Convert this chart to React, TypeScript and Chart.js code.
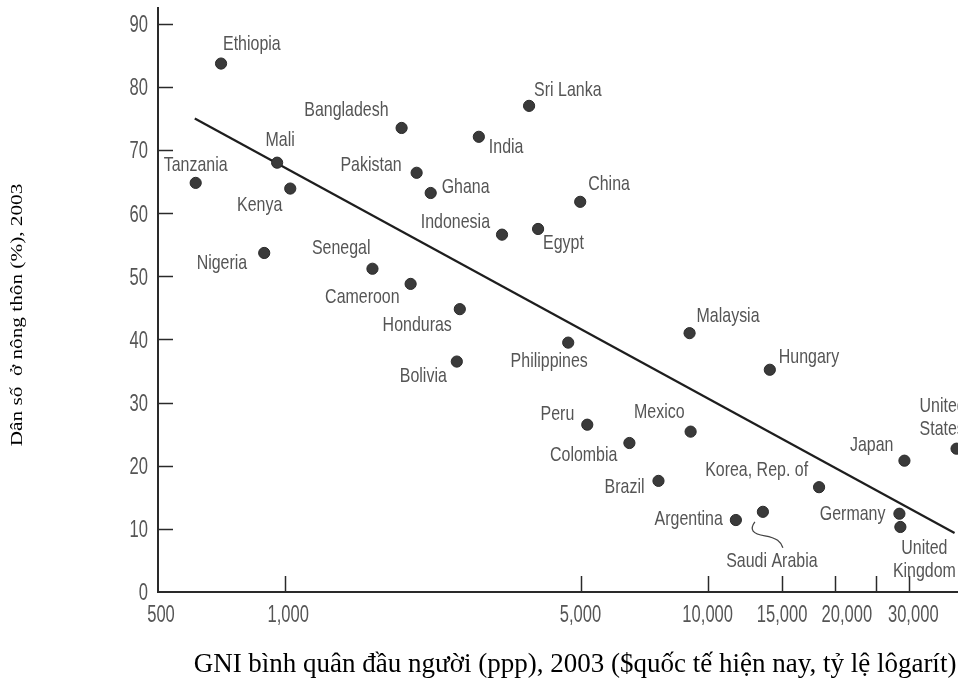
import React, { useEffect, useRef } from "react";
import { Chart, registerables } from "chart.js";

Chart.register(...registerables);

// ---- Data ----
const countries = [
  "Ethiopia", "Tanzania", "Mali", "Kenya", "Nigeria", "Bangladesh", "Pakistan", "Ghana",
  "Senegal", "Cameroon", "Honduras", "India", "Sri Lanka", "China", "Indonesia", "Egypt",
  "Malaysia", "Bolivia", "Philippines", "Hungary", "Peru", "Mexico", "Colombia", "Brazil",
  "Korea, Rep. of", "Japan", "United States", "Argentina", "Saudi Arabia", "Germany", "United Kingdom",
];
const gniPerCapita = [
  705, 614, 957, 1028, 892, 1886, 2047, 2210,
  1609, 1981, 2590, 2873, 3778, 4992, 3260, 3968,
  9060, 2548, 4676, 14030, 5188, 9112, 6527, 7648,
  18350, 29220, 38820, 11660, 13510, 28430, 28580,
];
const ruralShare = [
  83.7, 64.8, 68.0, 63.9, 53.7, 73.5, 66.4, 63.2,
  51.2, 48.8, 44.8, 72.1, 77.0, 61.8, 56.6, 57.5,
  41.0, 36.5, 39.5, 35.2, 26.5, 25.4, 23.6, 17.6,
  16.6, 20.8, 22.7, 11.4, 12.7, 12.4, 10.3,
];
const trendGni = [611, 38400];
const trendRural = [75.0, 9.35];

const xTickValues = [500, 1000, 5000, 10000, 15000, 20000, 25000, 30000];
const xTickLabels = ["500", "1,000", "5,000", "10,000", "15,000", "20,000", "", "30,000"];
const yTickValues = [0, 10, 20, 30, 40, 50, 60, 70, 80, 90];

const yTitle = "Dân số  ở nông thôn (%), 2003";
const xTitle = "GNI bình quân đầu người (ppp), 2003 ($quốc tế hiện nay, tỷ lệ lôgarít)";

// ---- Label layout (offset from dot in px, alignment) ----
const labelLayout: Record<string, [number, number, CanvasTextAlign]> = {
  "Ethiopia": [2, -19, "left"],
  "Tanzania": [0, -18, "center"],
  "Mali": [3, -22, "center"],
  "Kenya": [-8, 17, "right"],
  "Nigeria": [-17, 10, "right"],
  "Bangladesh": [-13, -18, "right"],
  "Pakistan": [-15, -8, "right"],
  "Ghana": [11, -6, "left"],
  "Senegal": [-2, -21, "right"],
  "Cameroon": [-11, 13, "right"],
  "Honduras": [-8, 16, "right"],
  "India": [10, 10, "left"],
  "Sri Lanka": [5, -16, "left"],
  "China": [8, -18, "left"],
  "Indonesia": [-12, -12, "right"],
  "Egypt": [5, 14, "left"],
  "Malaysia": [7, -17, "left"],
  "Bolivia": [-10, 15, "right"],
  "Philippines": [-19, 19, "center"],
  "Hungary": [9, -13, "left"],
  "Peru": [-13, -10, "right"],
  "Mexico": [-6, -19, "right"],
  "Colombia": [-12, 12, "right"],
  "Brazil": [-14, 6, "right"],
  "Korea, Rep. of": [-11, -17, "right"],
  "Japan": [-11, -15, "right"],
  "United States": [-37, -42, "left"],
  "Argentina": [-13, -1, "right"],
  "Saudi Arabia": [9, 49, "center"],
  "Germany": [-14, 0, "right"],
  "United Kingdom": [24, 21, "center"],
};
const twoLine: Record<string, string[]> = {
  "United States": ["United", "States"],
  "United Kingdom": ["United", "Kingdom"],
};
// small horizontal nudges of x tick labels, as in the printed figure
const xLabelNudge: Record<number, number> = { 500: 3, 1000: 3, 20000: 12, 30000: 4 };

const SANS = '"Liberation Sans", Arial, sans-serif';
const SERIF = '"Liberation Serif", "Times New Roman", serif';
const TEXT_GREY = "#555555";
const INK = "#2a2a2a";

function narrowText(ctx: CanvasRenderingContext2D, text: string, x: number, y: number, align: CanvasTextAlign, squeeze: number) {
  ctx.save();
  ctx.translate(x, y);
  ctx.scale(squeeze, 1);
  ctx.textAlign = align;
  ctx.fillText(text, 0, 0);
  ctx.restore();
}

const decorPlugin = {
  id: "decor",
  afterDraw(chart: any) {
    const { ctx, scales } = chart;
    const xs = scales.x;
    const ys = scales.y;
    const bottom = ys.getPixelForValue(0);
    const left = xs.getPixelForValue(500);
    ctx.save();
    ctx.strokeStyle = INK;
    ctx.lineWidth = 1.5;
    // inward tick marks
    xTickValues.forEach((v) => {
      if (v === 500) return;
      const px = Math.round(xs.getPixelForValue(v)) + 0.5;
      ctx.beginPath();
      ctx.moveTo(px, bottom);
      ctx.lineTo(px, bottom - 16);
      ctx.stroke();
    });
    yTickValues.forEach((v) => {
      if (v === 0) return;
      const py = Math.round(ys.getPixelForValue(v)) + 0.5;
      ctx.beginPath();
      ctx.moveTo(left, py);
      ctx.lineTo(left + 15, py);
      ctx.stroke();
    });

    // tick labels (condensed)
    ctx.fillStyle = TEXT_GREY;
    ctx.font = `23px ${SANS}`;
    ctx.textBaseline = "middle";
    xTickValues.forEach((v, i) => {
      const nudge = xLabelNudge[v] || 0;
      narrowText(ctx, xTickLabels[i], xs.getPixelForValue(v) + nudge, bottom + 24, "center", 0.72);
    });
    yTickValues.forEach((v) => {
      narrowText(ctx, String(v), left - 10, ys.getPixelForValue(v) + 2, "right", 0.72);
    });

    // point labels
    const meta = chart.getDatasetMeta(0);
    ctx.font = `21px ${SANS}`;
    ctx.textBaseline = "middle";
    meta.data.forEach((pt: any, i: number) => {
      const name = countries[i];
      const lay = labelLayout[name];
      if (!lay) return;
      const [dx, dy, align] = lay;
      const lines = twoLine[name] || [name];
      lines.forEach((ln, k) => {
        narrowText(ctx, ln, pt.x + dx, pt.y + dy + k * 23, align, 0.76);
      });
      if (name === "Saudi Arabia") {
        ctx.strokeStyle = "#444";
        ctx.lineWidth = 1.3;
        ctx.beginPath();
        ctx.moveTo(pt.x - 8, pt.y + 10);
        ctx.bezierCurveTo(pt.x - 14, pt.y + 18, pt.x - 10, pt.y + 22, pt.x + 2, pt.y + 24);
        ctx.bezierCurveTo(pt.x + 14, pt.y + 26, pt.x + 18, pt.y + 30, pt.x + 20, pt.y + 36);
        ctx.stroke();
      }
    });

    // axis titles
    ctx.fillStyle = "#000";
    ctx.font = `27px ${SERIF}`;
    ctx.textAlign = "center";
    ctx.textBaseline = "alphabetic";
    ctx.fillText(xTitle, 575, 672);

    ctx.save();
    ctx.translate(18, 315);
    ctx.rotate(-Math.PI / 2);
    ctx.scale(1.25, 1);
    ctx.font = `17px ${SERIF}`;
    ctx.textAlign = "center";
    ctx.textBaseline = "middle";
    ctx.fillText(yTitle, 0, 0);
    ctx.restore();

    ctx.restore();
  },
};

export default function App() {
  const canvasRef = useRef<HTMLCanvasElement | null>(null);

  useEffect(() => {
    if (!canvasRef.current) return;
    const points = gniPerCapita.map((g, i) => ({ x: g, y: ruralShare[i] }));
    const trend = trendGni.map((g, i) => ({ x: g, y: trendRural[i] }));
    const chart = new Chart(canvasRef.current, {
      type: "scatter",
      data: {
        datasets: [
          {
            label: "Countries",
            data: points,
            pointRadius: 5.6,
            pointBackgroundColor: "#3a3a3a",
            pointBorderColor: "#2a2a2a",
            pointBorderWidth: 1,
          },
          {
            label: "Trend",
            type: "line",
            data: trend,
            borderColor: "#1e1e1e",
            borderWidth: 2.2,
            pointRadius: 0,
            fill: false,
          } as any,
        ],
      },
      options: {
        animation: false,
        responsive: true,
        maintainAspectRatio: false,
        layout: { padding: { left: 0, right: 7, top: 8, bottom: 0 } },
        plugins: {
          legend: { display: false },
          tooltip: { enabled: false },
        },
        scales: {
          x: {
            type: "logarithmic",
            min: 500,
            max: 50000,
            afterFit: (s: any) => { s.height = 93; s.paddingLeft = 0; s.paddingRight = 0; },
            afterBuildTicks: (s: any) => { s.ticks = xTickValues.map((v) => ({ value: v })); },
            grid: { display: false },
            border: { display: true, color: INK, width: 2 },
            ticks: { display: false },
          },
          y: {
            type: "linear",
            min: 0,
            max: 92.5,
            afterFit: (s: any) => { s.width = 158; s.paddingTop = 0; s.paddingBottom = 0; },
            afterBuildTicks: (s: any) => { s.ticks = yTickValues.map((v) => ({ value: v })); },
            grid: { display: false, drawTicks: false },
            border: { display: true, color: INK, width: 2 },
            ticks: { display: false },
          },
        },
      },
      plugins: [decorPlugin],
    });
    return () => chart.destroy();
  }, []);

  return (
    <div style={{ position: "absolute", left: 0, top: 0, width: 958, height: 685, overflow: "hidden", background: "#fff" }}>
      <div style={{ position: "absolute", left: 0, top: 0, width: 1010, height: 685 }}>
        <canvas ref={canvasRef} />
      </div>
    </div>
  );
}
